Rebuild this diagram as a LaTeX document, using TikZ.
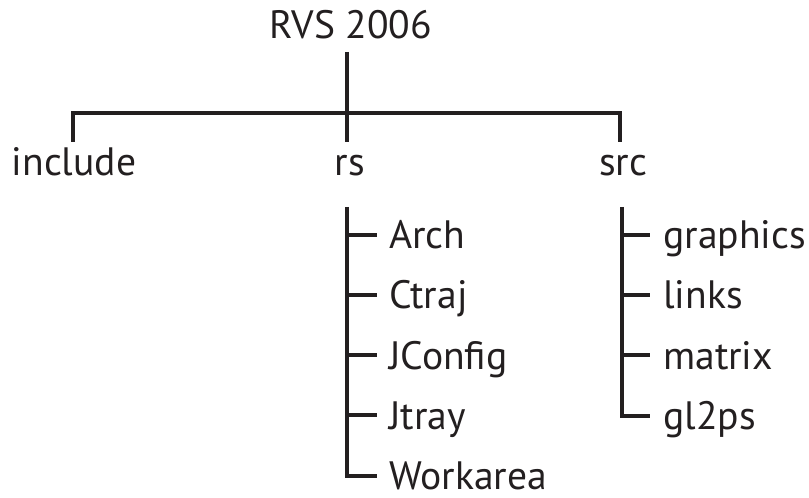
\documentclass[tikz,border=0pt]{standalone}
\usepackage{fontspec}
\setmainfont{PT Sans}
\definecolor{ink}{RGB}{35,31,32}
\begin{document}
\begin{tikzpicture}[x=0.75pt,y=-0.75pt,
  lbl/.style={font=\fontsize{29.7}{35}\selectfont, text=ink, inner sep=0pt, anchor=base},
  kid/.style={lbl, anchor=base west},
  conn/.style={draw=ink, line width=2.5pt, line cap=butt, line join=miter}]
\useasboundingbox (0,0) rectangle (809,498);
% top level
\node[lbl] (root) at (351,39) {RVS 2006};
\node[lbl] (inc) at (74,176) {include};
\node[lbl] (rs) at (350,176) {rs};
\node[lbl] (src) at (623,176) {src};
\coordinate (rootbot) at (347,52);
\coordinate (hub) at (347,113);
\coordinate (incTop) at (73,142);
\coordinate (rsTop) at (347,142);
\coordinate (srcTop) at (620,142);
\draw[conn] (rootbot) -- (rsTop);
\draw[conn] (incTop) -- (incTop |- hub) -- (srcTop |- hub) -- (srcTop);
% rs children
\coordinate (rsbar) at (347,207);
\node[kid] (arch) at (389,249) {Arch};
\node[kid] (ctraj) at (389,309) {Ctraj};
\node[kid] (jconf) at (389,369) {JConfig};
\node[kid] (jtray) at (389,429) {Jtray};
\node[kid] (work) at (389,489) {Workarea};
\draw[conn] (rsbar) -- (347,476) -- (377,476);
\foreach \y in {235,295,355,415}
  \draw[conn] (347,\y) -- (377,\y);
% src children
\coordinate (srcbar) at (622,207);
\node[kid] (gfx) at (663,249) {graphics};
\node[kid] (links) at (663,309) {links};
\node[kid] (matrix) at (663,369) {matrix};
\node[kid] (gl) at (663,429) {gl2ps};
\draw[conn] (srcbar) -- (622,416) -- (650,416);
\foreach \y in {235,295,355}
  \draw[conn] (622,\y) -- (650,\y);
\end{tikzpicture}
\end{document}
